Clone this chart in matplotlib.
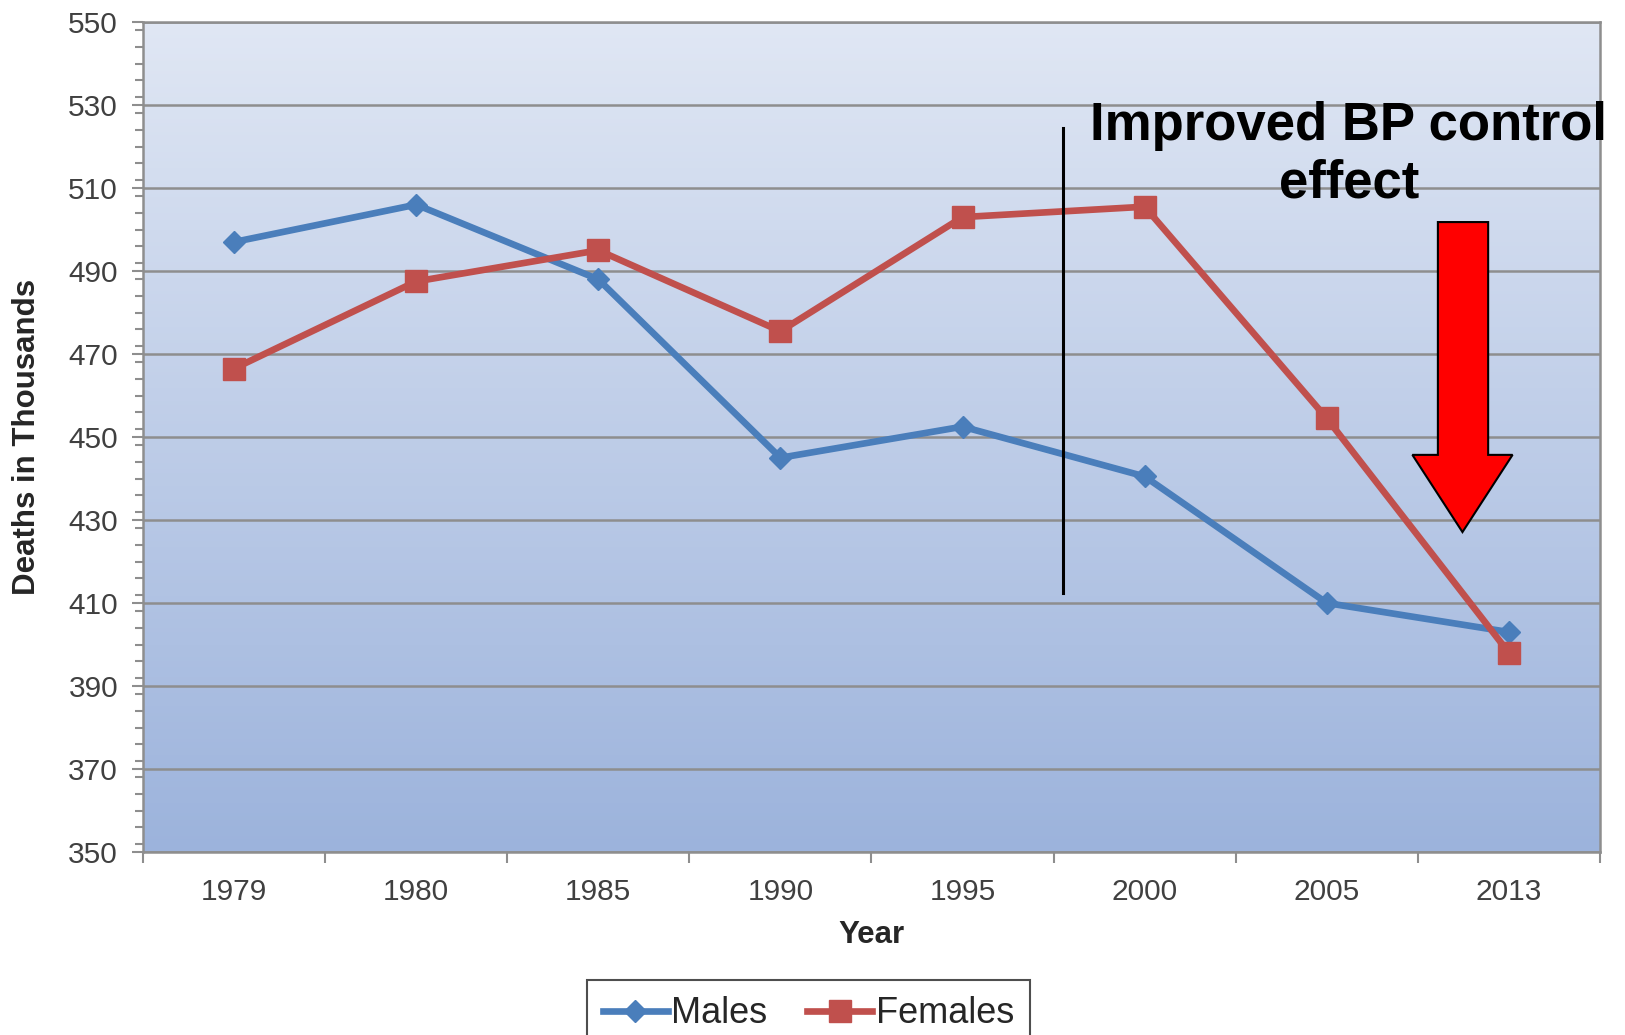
import matplotlib
matplotlib.use("Agg")
import matplotlib.pyplot as plt
import numpy as np
from matplotlib.patches import Polygon
from matplotlib.ticker import MultipleLocator, FixedLocator
from matplotlib.colors import LinearSegmentedColormap

years = ["1979", "1980", "1985", "1990", "1995", "2000", "2005", "2013"]
males = [497, 506, 488, 445, 452.5, 440.5, 410, 403]
females = [466.5, 487.5, 495, 475.5, 503, 505.5, 454.5, 398]
y_ticks = [350, 370, 390, 410, 430, 450, 470, 490, 510, 530, 550]

annotation_text = "Improved BP control\neffect"

plt.rcParams['font.family'] = ['Liberation Sans', 'DejaVu Sans']

fig = plt.figure(figsize=(16.25, 10.35), dpi=100)
ax = fig.add_axes([0.088, 0.1768, 0.8966, 0.8019])

x = np.arange(len(years))
ax.set_xlim(-0.5, len(years) - 0.5)
ax.set_ylim(350, 550)

grad = np.linspace(0, 1, 256).reshape(-1, 1)
cmap = LinearSegmentedColormap.from_list("bg", ["#9cb3dc", "#e0e7f4"])
ax.imshow(grad, aspect='auto', cmap=cmap, origin='lower',
          extent=[-0.5, len(years) - 0.5, 350, 550], zorder=0)

for yv in y_ticks:
    ax.axhline(yv, color='#8e8e8e', lw=1.8, zorder=1)

ax.plot(x, males, color='#4a7ebb', lw=4.8, marker='D', ms=11.5,
        mfc='#4a7ebb', mec='#4a7ebb', label='Males', zorder=3)
ax.plot(x, females, color='#c0504d', lw=4.8, marker='s', ms=16,
        mfc='#c0504d', mec='#c0504d', label='Females', zorder=3)

ax.plot([4.55, 4.55], [412.5, 524.5], color='black', lw=2.2, zorder=4)

arrow = Polygon([(6.61, 501.8), (6.886, 501.8), (6.886, 445.7), (7.02, 445.7),
                 (6.745, 427.1), (6.47, 445.7), (6.61, 445.7)], closed=True,
                facecolor='#ff0000', edgecolor='black', lw=1.5, zorder=5)
ax.add_patch(arrow)

ax.text(6.12, 518.0, annotation_text, ha='center', va='center', fontsize=38,
        fontweight='bold', color='black', linespacing=1.2, zorder=6,
        clip_on=False)

for s in ax.spines.values():
    s.set_color('#8e8e8e')
    s.set_linewidth(1.8)

ax.yaxis.set_major_locator(FixedLocator(y_ticks))
ax.yaxis.set_minor_locator(MultipleLocator(4))
ax.tick_params(axis='y', which='major', length=8, width=1.5, color='#8e8e8e',
               labelsize=21.5, labelcolor='#404040', pad=10)
ax.tick_params(axis='y', which='minor', length=6, width=1.5, color='#8e8e8e')

ax.xaxis.set_major_locator(FixedLocator(np.arange(-0.5, len(years), 1.0)))
ax.xaxis.set_major_formatter(plt.NullFormatter())
ax.xaxis.set_minor_locator(FixedLocator(x))
ax.set_xticklabels(years, minor=True)
ax.tick_params(axis='x', which='major', length=8, width=1.5, color='#8e8e8e')
ax.tick_params(axis='x', which='minor', length=0, labelsize=21.5,
               labelcolor='#404040', pad=19)

ax.set_ylabel("Deaths in Thousands", fontsize=22.5, fontweight='bold',
              color='#262626', labelpad=19)
ax.set_xlabel("Year", fontsize=22.5, fontweight='bold', color='#262626',
              labelpad=10)

leg = fig.legend(loc='upper center', bbox_to_anchor=(0.4975, 0.0531), ncol=2,
                 fontsize=26, frameon=True, fancybox=False, edgecolor='#222222',
                 handlelength=1.8, handletextpad=0.1, columnspacing=1.1,
                 borderpad=0.45, borderaxespad=0.0, markerscale=1.0)
leg.get_frame().set_linewidth(1.5)
for t in leg.get_texts():
    t.set_color('#262626')

fig.savefig("out.png", dpi=100)
